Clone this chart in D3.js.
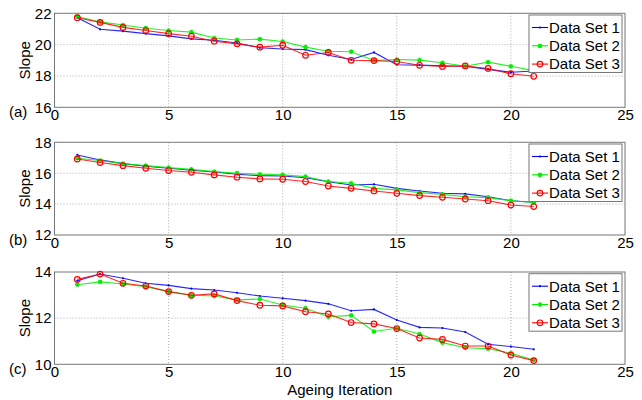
<!DOCTYPE html>
<html><head><meta charset="utf-8">
<script src="https://cdn.jsdelivr.net/npm/d3@7"></script>
<style>body{margin:0;background:#fff}svg{display:block}svg text{font-family:"Liberation Sans",Arial,sans-serif}</style>
</head><body>
<svg id="c" width="642" height="400"></svg>
<script>
const iterations = d3.range(1, 22);
const seriesNames = ["Data Set 1", "Data Set 2", "Data Set 3"];
const xTicks = [0, 5, 10, 15, 20, 25];

const panelA_ds1 = [21.72,20.98,20.86,20.7,20.56,20.37,20.28,20.1,19.8,19.72,19.68,19.32,19.05,19.5,18.72,18.69,18.65,18.62,18.42,18.24,18.32];
const panelA_ds2 = [21.8,21.45,21.25,21.05,20.9,20.8,20.42,20.3,20.35,20.2,19.84,19.58,19.55,18.99,19.05,19.01,18.84,18.62,18.88,18.62,18.34];
const panelA_ds3 = [21.72,21.42,21.1,20.9,20.7,20.54,20.22,20.05,19.84,19.96,19.32,19.5,19.0,18.98,18.92,18.68,18.6,18.64,18.48,18.14,17.98];
const panelA_yTicks = [16, 18, 20, 22];

const panelB_ds1 = [17.18,16.86,16.62,16.45,16.32,16.19,16.08,15.93,15.84,15.82,15.71,15.45,15.24,15.28,15.02,14.85,14.7,14.66,14.48,14.22,14.12];
const panelB_ds2 = [16.97,16.82,16.62,16.49,16.36,16.25,16.1,16.0,15.93,15.89,15.78,15.46,15.35,15.02,14.92,14.74,14.63,14.48,14.42,14.22,14.1];
const panelB_ds3 = [16.92,16.69,16.49,16.32,16.17,16.06,15.89,15.74,15.63,15.61,15.46,15.17,15.02,14.85,14.7,14.55,14.44,14.33,14.22,13.94,13.84];
const panelB_yTicks = [12, 14, 16, 18];

const panelC_ds1 = [13.62,13.91,13.73,13.51,13.42,13.28,13.22,13.1,12.96,12.86,12.76,12.62,12.32,12.38,11.92,11.6,11.57,11.4,10.87,10.77,10.65];
const panelC_ds2 = [13.45,13.57,13.48,13.36,13.15,12.99,12.96,12.79,12.83,12.57,12.43,12.06,12.12,11.42,11.56,11.31,10.94,10.72,10.68,10.48,10.19];
const panelC_ds3 = [13.68,13.91,13.51,13.39,13.15,12.99,13.05,12.76,12.56,12.53,12.28,12.18,11.81,11.75,11.55,11.14,11.08,10.79,10.79,10.4,10.16];
const panelC_yTicks = [10, 12, 14];

const panels = [
  {label: "(a)", data: [panelA_ds1, panelA_ds2, panelA_ds3], yTicks: panelA_yTicks, top: 13.3, bottom: 107.3},
  {label: "(b)", data: [panelB_ds1, panelB_ds2, panelB_ds3], yTicks: panelB_yTicks, top: 142.3, bottom: 235},
  {label: "(c)", data: [panelC_ds1, panelC_ds2, panelC_ds3], yTicks: panelC_yTicks, top: 272, bottom: 364.3}
];
const colors = ["#0000ff", "#00ee00", "#ff0000"];
const svg = d3.select("#c");
const x = d3.scaleLinear().domain([0, 25]).range([54.5, 625]);
const L = x.range()[0], R = x.range()[1];
const FONT = "'Liberation Sans', Arial, sans-serif";

function marker(g, k, cx, cy) {
  if (k === 0) {
    g.append("circle").attr("cx", cx).attr("cy", cy).attr("r", 1.1).attr("fill", colors[0]);
  } else if (k === 1) {
    const s = 2.4;
    g.append("path").attr("d", `M${cx-s},${cy}H${cx+s}M${cx},${cy-s}V${cy+s}M${cx-s*0.7},${cy-s*0.7}L${cx+s*0.7},${cy+s*0.7}M${cx-s*0.7},${cy+s*0.7}L${cx+s*0.7},${cy-s*0.7}`)
      .attr("stroke", colors[1]).attr("stroke-width", 1.2).attr("fill", "none");
  } else {
    g.append("circle").attr("cx", cx).attr("cy", cy).attr("r", 2.8).attr("fill", "none").attr("stroke", colors[2]).attr("stroke-width", 1.2);
  }
}

panels.forEach(p => {
  const y = d3.scaleLinear().domain(d3.extent(p.yTicks)).range([p.bottom, p.top]);
  const g = svg.append("g");
  xTicks.slice(1, -1).forEach(t => g.append("line").attr("x1", x(t)).attr("x2", x(t)).attr("y1", p.top).attr("y2", p.bottom)
    .attr("stroke", "#999").attr("stroke-dasharray", "1,2").attr("stroke-width", 0.8));
  p.yTicks.slice(1, -1).forEach(t => g.append("line").attr("x1", L).attr("x2", R).attr("y1", y(t)).attr("y2", y(t))
    .attr("stroke", "#999").attr("stroke-dasharray", "1,2").attr("stroke-width", 0.8));
  const ax = g.append("g").attr("transform", `translate(0,${p.bottom})`)
    .call(d3.axisBottom(x).tickValues(xTicks).tickFormat(d3.format("d")).tickSize(0).tickPadding(2));
  ax.attr("font-family", FONT);
  ax.select(".domain").remove();
  ax.selectAll("text").attr("font-size", 15).attr("fill", "#000");
  const ay = g.append("g").attr("transform", `translate(${L - 1},0)`)
    .call(d3.axisLeft(y).tickValues(p.yTicks).tickFormat(d3.format("d")).tickSize(0).tickPadding(2));
  ay.attr("font-family", FONT);
  ay.select(".domain").remove();
  ay.selectAll("text").attr("font-size", 15).attr("fill", "#000");
  g.append("rect").attr("x", L).attr("y", p.top).attr("width", R - L).attr("height", p.bottom - p.top)
    .attr("fill", "none").attr("stroke", "#777").attr("stroke-width", 1);
  p.data.forEach((vals, k) => {
    const line = d3.line().x((d, i) => x(iterations[i])).y(d => y(d));
    g.append("path").datum(vals).attr("d", line).attr("fill", "none").attr("stroke", colors[k]).attr("stroke-width", 1.1).attr("stroke-opacity", 0.85);
    vals.forEach((v, i) => marker(g, k, x(iterations[i]), y(v)));
  });
  g.append("text").attr("transform", `translate(30,${(p.top + p.bottom) / 2}) rotate(-90)`).attr("text-anchor", "middle")
    .attr("font-size", 15).text("Slope");
  g.append("text").attr("x", 9).attr("y", p.bottom + 10).attr("font-size", 15).text(p.label);
  const lx = 529, ly = p.top + 1.7, lw = 93, lh = 57.5;
  const lg = g.append("g");
  lg.append("rect").attr("x", lx).attr("y", ly).attr("width", lw).attr("height", lh).attr("fill", "#fff").attr("stroke", "#777");
  seriesNames.forEach((n, k) => {
    const ry = ly + 12.5 + k * 18.3;
    lg.append("line").attr("x1", lx + 3).attr("x2", lx + 19).attr("y1", ry).attr("y2", ry).attr("stroke", colors[k]).attr("stroke-width", 1.1);
    marker(lg, k, lx + 11, ry);
    lg.append("text").attr("x", lx + 20).attr("y", ry + 5.3).attr("font-size", 15).text(n);
  });
});
svg.append("text").attr("x", (L + R) / 2).attr("y", 395).attr("text-anchor", "middle").attr("font-size", 15).text("Ageing Iteration");
</script>
</body></html>
